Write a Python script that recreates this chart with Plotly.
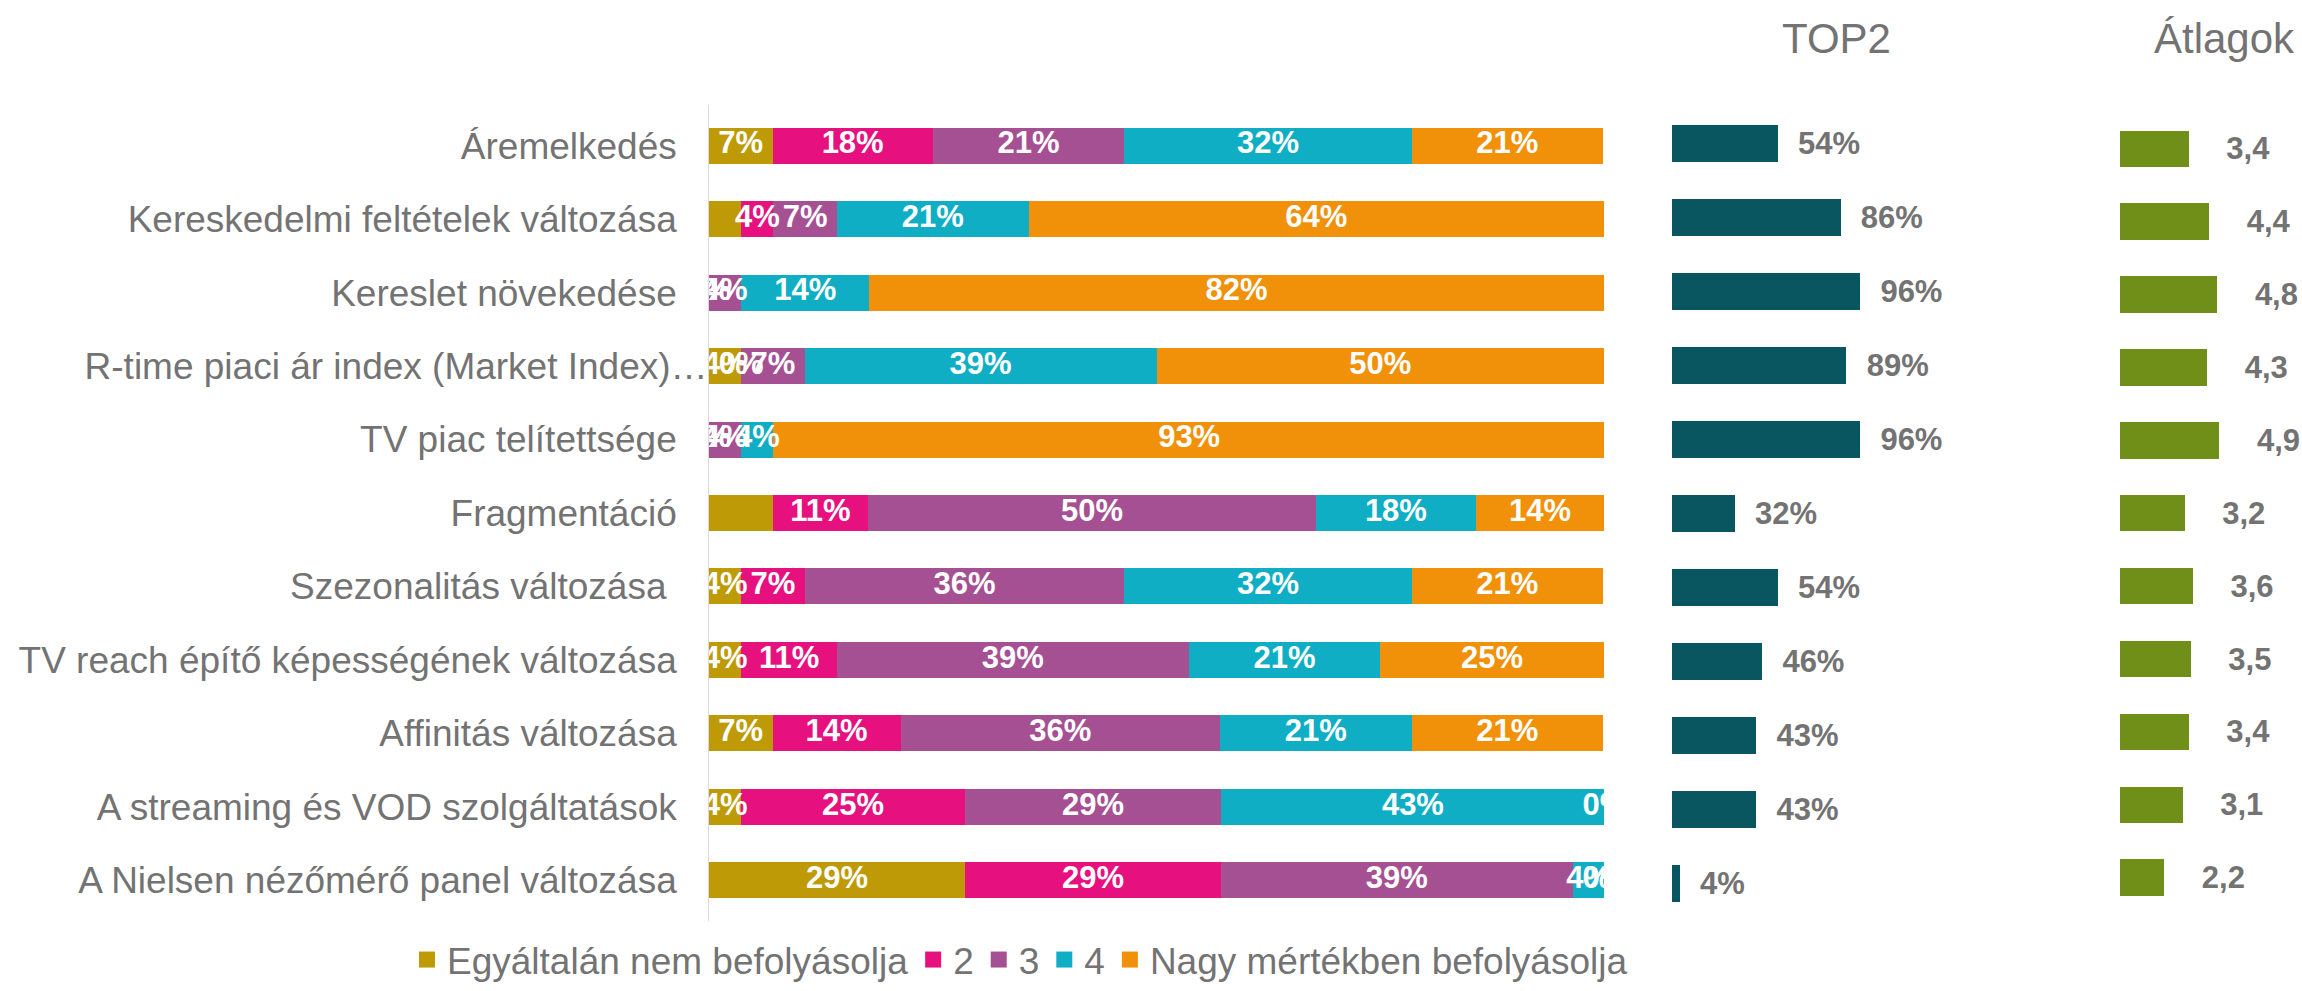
import plotly.graph_objects as go

# ---------------- data ----------------
categories = [
    "Áremelkedés",
    "Kereskedelmi feltételek változása",
    "Kereslet növekedése",
    "R-time piaci ár index (Market Index)…",
    "TV piac telítettsége",
    "Fragmentáció",
    "Szezonalitás változása\u00a0",
    "TV reach építő képességének változása",
    "Affinitás változása",
    "A streaming és VOD szolgáltatások",
    "A Nielsen nézőmérő panel változása",
]

series_names = ["Egyáltalán nem befolyásolja", "2", "3", "4", "Nagy mértékben befolyásolja"]
s1 = [7.1, 3.6, 0.0, 3.6, 0.0, 7.1, 3.6, 3.6, 7.1, 3.6, 28.6]
s2 = [17.9, 3.6, 0.0, 0.0, 0.0, 10.7, 7.1, 10.7, 14.3, 25.0, 28.6]
s3 = [21.4, 7.1, 3.6, 7.1, 3.6, 50.0, 35.7, 39.3, 35.7, 28.6, 39.3]
s4 = [32.1, 21.4, 14.3, 39.3, 3.6, 17.9, 32.1, 21.4, 21.4, 42.9, 3.6]
s5 = [21.4, 64.3, 82.1, 50.0, 92.9, 14.3, 21.4, 25.0, 21.4, 0.0, 0.0]
series_values = [s1, s2, s3, s4, s5]

# labels that are not shown in the original (series index, row index)
hidden_labels = {(0, 1), (0, 5)}

top2 = [54, 86, 96, 89, 96, 32, 54, 46, 43, 43, 4]
means = [3.4, 4.4, 4.8, 4.3, 4.9, 3.2, 3.6, 3.5, 3.4, 3.1, 2.2]

# ---------------- style ----------------
colors = ["#BE9A07", "#E6107F", "#A55093", "#10AEC5", "#F19009"]
top2_color = "#0A5660"
mean_color = "#6F8F18"
gray = "#737373"
FONT = "Liberation Sans"
W, H = 2302, 991

def px_x(p):
    return p / W

def px_y(p):
    return 1 - p / H

# tick texts: labels right-aligned with a small gap; the truncated one reaches closer to the axis
NBSP = "\u00a0"
ticktext = [c if c.endswith("…") else c + NBSP * 3 for c in categories]

fig = go.Figure()

# stacked bars
for si, (name, vals, col) in enumerate(zip(series_names, series_values, colors)):
    fig.add_trace(go.Bar(
        y=categories, x=vals, name=name, orientation="h",
        marker=dict(color=col, line=dict(width=0)),
        width=0.49, showlegend=False, hoverinfo="skip",
        xaxis="x", yaxis="y",
    ))

# segment labels (centered in each segment, clipped to the plot area)
cum = [0.0] * len(categories)
for si, vals in enumerate(series_values):
    xs, texts = [], []
    for ri, v in enumerate(vals):
        xs.append(cum[ri] + v / 2)
        texts.append("" if (si, ri) in hidden_labels else f"{round(v)}%")
        cum[ri] += v
    fig.add_trace(go.Scatter(
        x=xs, y=categories, mode="text", text=texts, textposition="middle center",
        textfont=dict(color="white", size=31, family=FONT, weight="bold"),
        cliponaxis=True, showlegend=False, hoverinfo="skip",
        xaxis="x", yaxis="y",
    ))

# legend entries
for name, col in zip(series_names, colors):
    fig.add_trace(go.Scatter(
        x=[None], y=[None], mode="markers", name=name,
        marker=dict(symbol="square", size=19, color=col),
        xaxis="x", yaxis="y",
    ))

fig.add_trace(go.Bar(
    y=categories, x=top2, orientation="h", showlegend=False,
    marker=dict(color=top2_color, line=dict(width=0)), width=0.495,
    texttemplate=NBSP * 2 + "%{x}%", textposition="outside",
    textfont=dict(color=gray, size=31, family=FONT, weight="bold"),
    cliponaxis=False, hoverinfo="skip",
    xaxis="x2", yaxis="y2",
))

fig.add_trace(go.Bar(
    y=categories, x=means, orientation="h", showlegend=False,
    marker=dict(color=mean_color, line=dict(width=0)), width=0.50,
    texttemplate=NBSP * 4 + "%{x:.1f}", textposition="outside",
    textfont=dict(color=gray, size=31, family=FONT, weight="bold"),
    cliponaxis=False, hoverinfo="skip",
    xaxis="x3", yaxis="y3",
))

hidden_x = dict(showgrid=False, zeroline=False, showticklabels=False, showline=False, fixedrange=True)
cat_axis = dict(type="category", categoryorder="array", categoryarray=categories,
                autorange="reversed", showgrid=False, zeroline=False, fixedrange=True)

fig.update_layout(
    width=W, height=H,
    margin=dict(l=0, r=0, t=0, b=0),
    paper_bgcolor="white", plot_bgcolor="white",
    barmode="stack",
    separators=", ",
    font=dict(family=FONT, color=gray, size=37),
    xaxis=dict(domain=[px_x(709), px_x(1604)], range=[0, 100], anchor="y", **hidden_x),
    yaxis=dict(domain=[px_y(931.5), px_y(106)], anchor="x", showline=True, linecolor="#D9D9D9",
               linewidth=1, ticks="", ticklabelstandoff=-7,
               tickmode="array", tickvals=categories, ticktext=ticktext,
               tickfont=dict(size=37, color=gray, family=FONT), **cat_axis),
    xaxis2=dict(domain=[px_x(1672), px_x(1868)], range=[0, 100], anchor="y2", **hidden_x),
    yaxis2=dict(domain=[px_y(931), px_y(107.6)], anchor="x2", showticklabels=False, showline=False, **cat_axis),
    xaxis3=dict(domain=[px_x(2119.5), px_x(2221.5)], range=[0, 5], anchor="y3", **hidden_x),
    yaxis3=dict(domain=[px_y(924.4), px_y(113.6)], anchor="x3", showticklabels=False, showline=False, **cat_axis),
    legend=dict(orientation="h", x=px_x(1020), xanchor="center", y=px_y(971), yanchor="middle",
                font=dict(size=37, color=gray, family=FONT), traceorder="normal",
                bgcolor="rgba(0,0,0,0)"),
    annotations=[
        dict(text="TOP2", x=px_x(1836), y=px_y(38.5), xref="paper", yref="paper",
             xanchor="center", yanchor="middle", showarrow=False,
             font=dict(size=42, color=gray, family=FONT)),
        dict(text="Átlagok", x=px_x(2224), y=px_y(38.5), xref="paper", yref="paper",
             xanchor="center", yanchor="middle", showarrow=False,
             font=dict(size=42, color=gray, family=FONT)),
    ],
)

fig.write_html("out.html", config={"displayModeBar": False},
               post_script="document.body.style.margin='0';document.body.style.overflow='hidden';")
